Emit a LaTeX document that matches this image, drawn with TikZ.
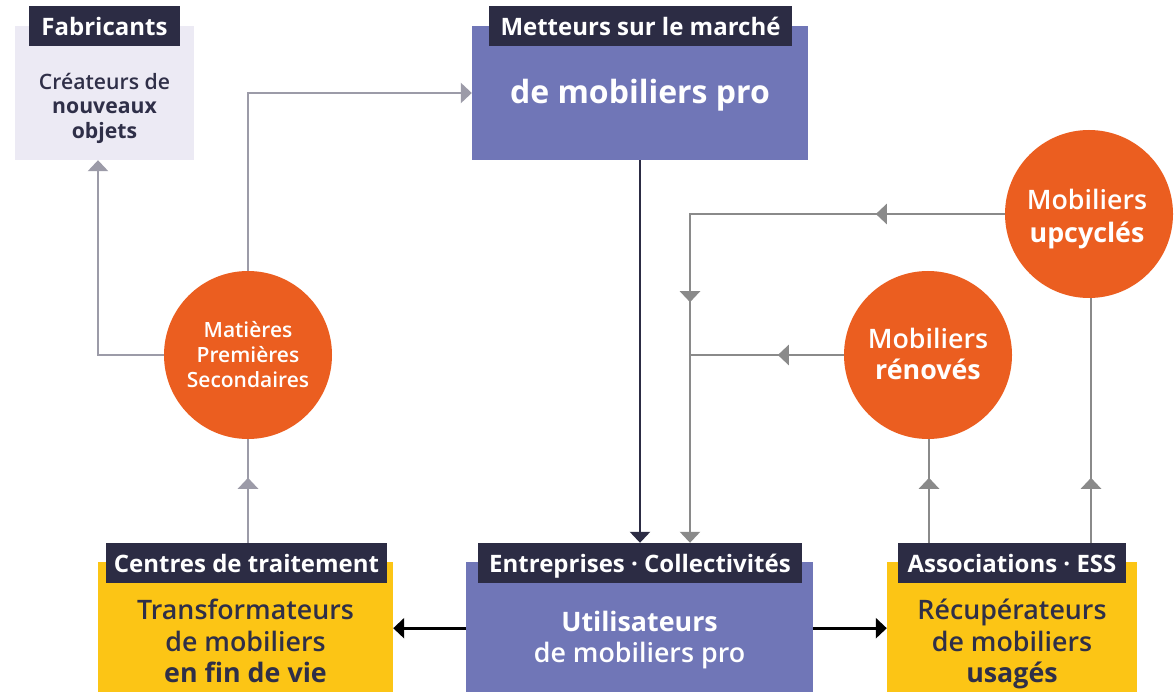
\documentclass[tikz,border=0pt]{standalone}
\usepackage{fontspec}
\setmainfont{Open Sans}
\IfFontExistsTF{Open Sans SemiBold}{\newfontfamily\sbf{Open Sans SemiBold}}{\IfFontExistsTF{Open Sans Semibold}{\newfontfamily\sbf{Open Sans Semibold}}{\newfontfamily\sbf{Open Sans}[FakeBold=0.6]}}
\usetikzlibrary{arrows.meta,decorations.markings,calc}
\definecolor{purp}{HTML}{7076B7}
\definecolor{navy}{HTML}{2C2C44}
\definecolor{orng}{HTML}{EB5E20}
\definecolor{yel}{HTML}{FCC515}
\definecolor{lav}{HTML}{ECEAF4}
\definecolor{gline}{HTML}{8A8A8A}
\definecolor{lgline}{HTML}{9C9BA8}
\definecolor{dtext}{HTML}{2F2F48}
\tikzset{
  box/.style={rectangle, inner sep=0pt, draw=none},
  lbl/.style={rectangle, inner sep=0pt, fill=navy, text=white, minimum height=40pt, text height=18pt, text depth=0pt, font=\bfseries\fontsize{24}{28}\selectfont},
  circ/.style={circle, fill=orng, inner sep=0pt, minimum size=168pt},
  ctext/.style={text=white, align=center},
  tip/.style={-{Triangle[width=20pt,length=11pt]}},
  gl/.style={draw=gline, line width=2.5pt},
  lgl/.style={draw=lgline, line width=2.5pt},
  midtip/.style={postaction={decorate}, decoration={markings, mark=at position #1 with {\arrow{Triangle[width=20pt,length=11pt]}}}},
  midtiptwo/.style 2 args={postaction={decorate}, decoration={markings, mark=at position #1 with {\arrow{Triangle[width=20pt,length=11pt]}}, mark=at position #2 with {\arrow{Triangle[width=20pt,length=11pt]}}}},
  body/.style={align=center, font=\sbf\fontsize{26.8}{31.5}\selectfont}
}
\begin{document}
\begin{tikzpicture}[x=1pt,y=-1pt]
\useasboundingbox[fill=white] (0,0) rectangle (1174,692);

% top boxes
\node[box, fill=lav, minimum width=179pt, minimum height=134pt] (fab) at (104.5,93) {};
\node[lbl, minimum width=151pt] (fablbl) at (104.5,26.5) {Fabricants};
\node[align=center, text=dtext, font=\sbf\fontsize{21.2}{24.5}\selectfont] (fabtxt) at (104.5,108) {Créateurs de\\{\normalfont\bfseries nouveaux}\\{\normalfont\bfseries objets}};

\node[box, fill=purp, minimum width=336pt, minimum height=134pt] (met) at (640,93) {};
\node[lbl, minimum width=303pt] (metlbl) at (640.5,26.5) {Metteurs sur le marché};
\node[text=white, font=\bfseries\fontsize{32}{38}\selectfont] (mettxt) at (640,95) {de mobiliers pro};

% circles
\node[circ] (mps) at (248,355) {};
\node[ctext, font=\sbf\fontsize{21}{25}\selectfont] (mpstxt) at (248,355) {Matières\\Premières\\Secondaires};
\node[circ] (ren) at (928,355) {};
\node[ctext, font=\sbf\fontsize{26.8}{31}\selectfont] (rentxt) at (928,354) {Mobiliers\\{\normalfont\bfseries rénovés}};
\node[circ] (upc) at (1089,214) {};
\node[ctext, font=\sbf\fontsize{26.8}{33}\selectfont] (upctxt) at (1087,219) {Mobiliers\\{\normalfont\bfseries upcyclés}};

% bottom boxes
\node[box, fill=yel, minimum width=295pt, minimum height=132pt, anchor=north] (cen) at (245.5,562) {};
\node[lbl, minimum width=281pt] (cenlbl) at (246.5,563) {Centres de traitement};
\node[body, text=dtext] (centxt) at (245.5,641) {Transformateurs\\de mobiliers\\{\normalfont\bfseries en fin de vie}};

\node[box, fill=purp, minimum width=347pt, minimum height=132pt, anchor=north] (ent) at (639.5,562) {};
\node[lbl, minimum width=324pt] (entlbl) at (640,563) {Entreprises · Collectivités};
\node[body, text=white] (enttxt) at (639.5,640) {{\normalfont\bfseries Utilisateurs}\\de mobiliers pro};

\node[box, fill=yel, minimum width=250pt, minimum height=132pt, anchor=north] (ass) at (1012,562) {};
\node[lbl, minimum width=228pt] (asslbl) at (1012,563) {Associations · ESS};
\node[body, text=dtext] (asstxt) at (1012,644) {Récupérateurs\\de mobiliers\\{\normalfont\bfseries usagés}};

% connectors
\coordinate (gx) at ([xshift=50pt]entlbl.north);
\draw[lgl, tip] (mps.west) -| ([xshift=-6.5pt]fab.south);
\draw[lgl, tip] (mps.north) |- (met.west);
\draw[lgl, midtip=65pt] (mps.south |- cenlbl.north) -- (mps.south);
\draw[draw=navy, line width=2.5pt, tip] (met.south) -- (entlbl.north);
\draw[gl, tip, midtiptwo={129pt}{403pt}] (upc.west) -| (gx);
\draw[gl, midtip=66pt] (ren.west) -- (ren.west -| gx);
\draw[gl, midtip=65pt] ([xshift=1pt]ren.south |- asslbl.north) -- ([xshift=1pt]ren.south);
\draw[gl, midtip=65pt] ([xshift=2pt]upc.south |- asslbl.north) -- ([xshift=2pt]upc.south);
\draw[black, line width=3pt, tip] (ent.west) -- (cen.east);
\draw[black, line width=3pt, tip] (ent.east) -- (ass.west);
\end{tikzpicture}
\end{document}
